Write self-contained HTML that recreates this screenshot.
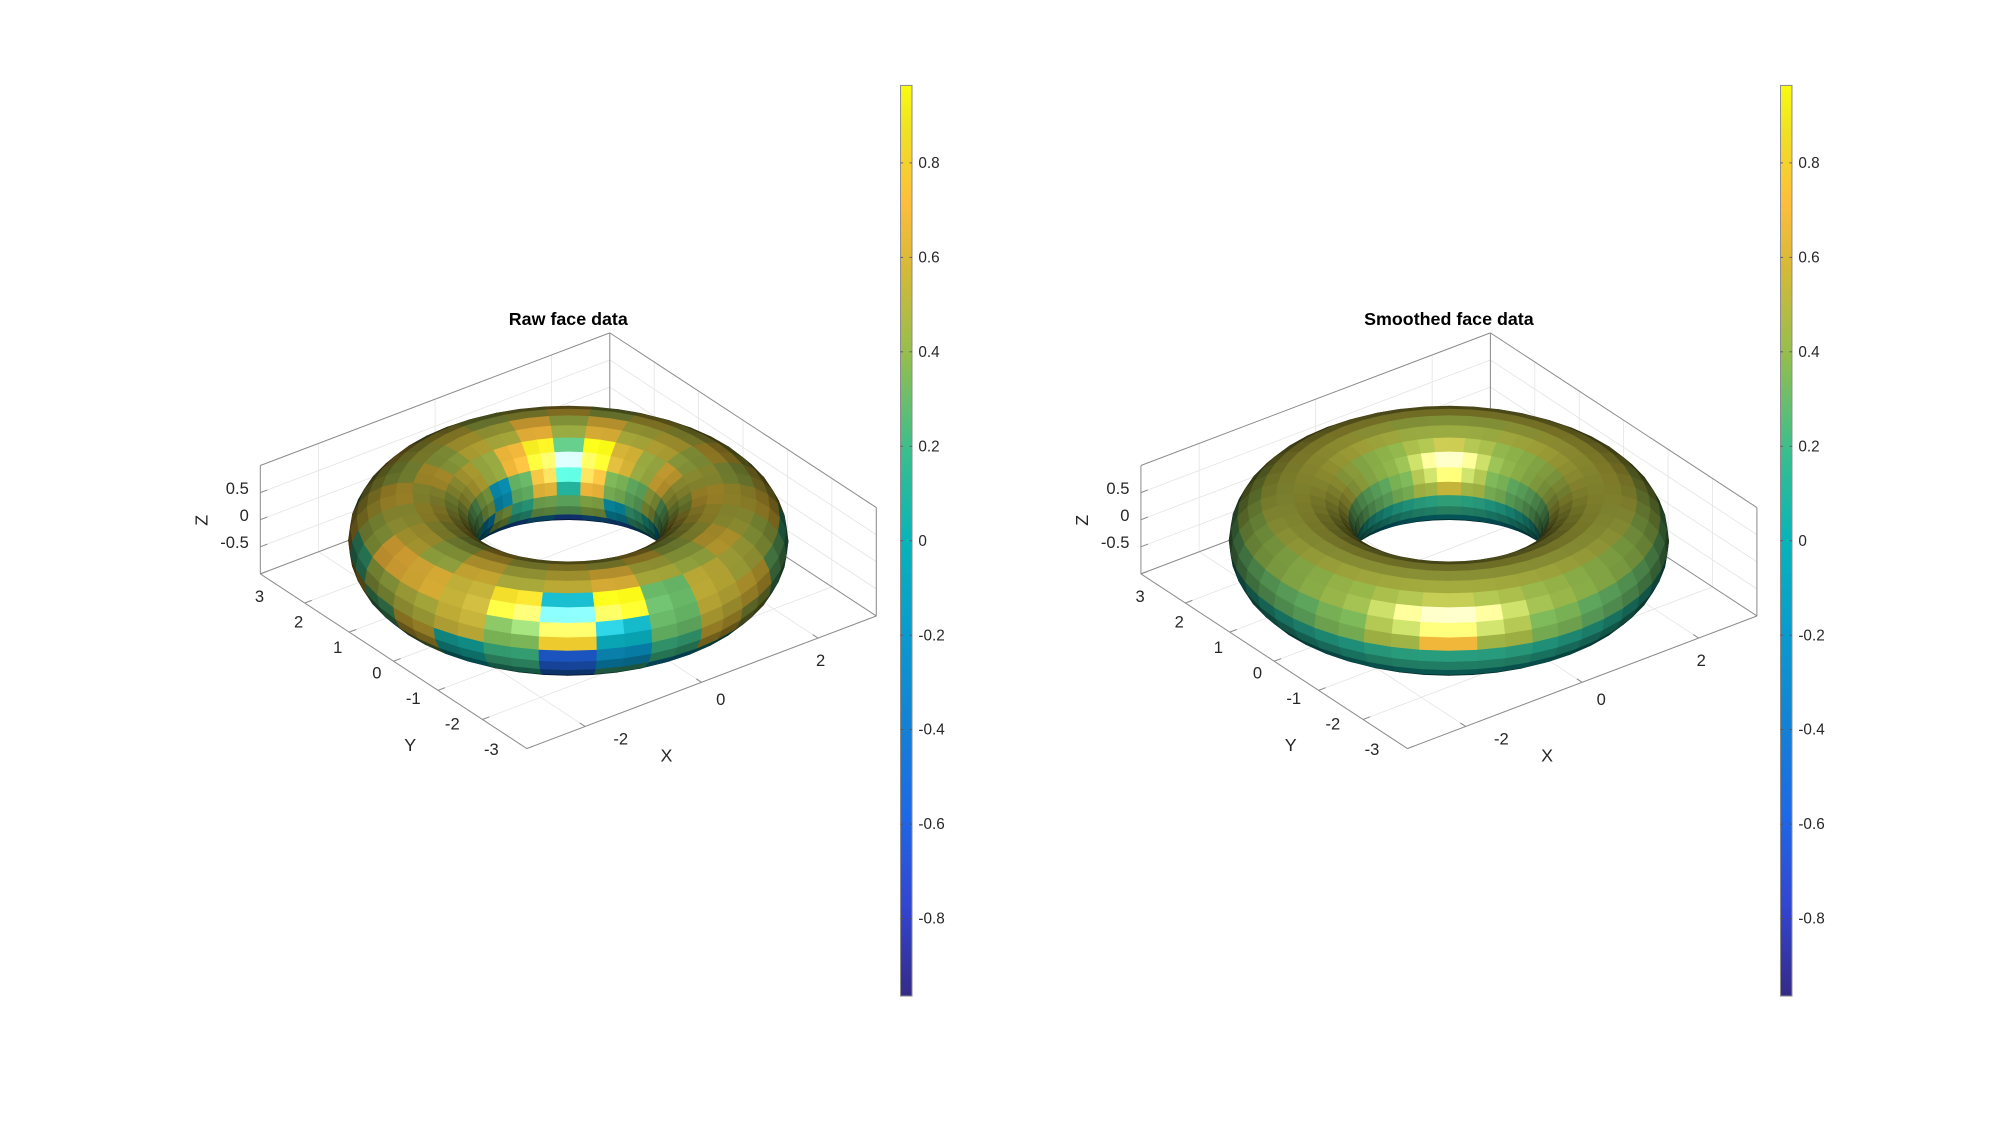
<!DOCTYPE html>
<html><head><meta charset="utf-8"><style>
html,body{margin:0;padding:0;background:#fff;}
svg{display:block;font-family:"Liberation Sans",sans-serif;}
</style></head><body>
<svg id="fig" width="2000" height="1121" viewBox="0 0 1568 879" xmlns="http://www.w3.org/2000/svg">
<defs>
<linearGradient id="parula" x1="0" y1="1" x2="0" y2="0">
<stop offset="0" stop-color="rgb(53,42,135)"/>
<stop offset="0.1" stop-color="rgb(50,70,210)"/>
<stop offset="0.2" stop-color="rgb(30,105,230)"/>
<stop offset="0.3" stop-color="rgb(20,130,212)"/>
<stop offset="0.4" stop-color="rgb(10,155,205)"/>
<stop offset="0.5" stop-color="rgb(8,180,185)"/>
<stop offset="0.6" stop-color="rgb(60,190,140)"/>
<stop offset="0.7" stop-color="rgb(145,190,80)"/>
<stop offset="0.8" stop-color="rgb(215,185,55)"/>
<stop offset="0.87" stop-color="rgb(252,190,60)"/>
<stop offset="0.95" stop-color="rgb(240,225,35)"/>
<stop offset="1" stop-color="rgb(249,251,14)"/>
</linearGradient>
</defs>
</svg>
<script>
// colorbar ticks
const cbTicks = [-0.8,-0.6,-0.4,-0.2,0,0.2,0.4,0.6,0.8];
const cbLabels = ["-0.8","-0.6","-0.4","-0.2","0","0.2","0.4","0.6","0.8"];
const cLim = [-0.964, 0.964];
const xTicks = [-2,0,2];
const yTicks = [3,2,1,0,-1,-2,-3];
const zTicks = [0.5,0,-0.5];
const zTickLabels = ["0.5","0","-0.5"];
// face values: rows = minor angle (v) bins from outer equator going up/over, cols = major angle (u) bins
const smoothVals = [
[.4,.4,.4,.4,.4,.4,.35,.3,.3,.3,.3,.3,.3,.35,.45,.7,.45,.35,.3,.3,.3,.3,.3,.35],
[.5,.5,.5,.5,.5,.5,.5,.5,.45,.42,.4,.4,.4,.42,.45,.48,.45,.42,.4,.4,.4,.42,.45,.5],
[.52,.52,.52,.52,.52,.52,.52,.52,.5,.48,.48,.48,.48,.48,.48,.48,.48,.48,.48,.48,.48,.5,.52,.52],
[.5,.48,.45,.45,.45,.48,.5,.5,.5,.5,.5,.5,.5,.5,.5,.5,.5,.5,.5,.5,.5,.5,.5,.5],
[.4,.4,.45,.5,.45,.4,.4,.45,.5,.5,.5,.5,.5,.5,.5,.5,.5,.5,.5,.5,.5,.5,.45,.42],
[.3,.35,.45,.55,.45,.35,.3,.3,.3,.3,.3,.3,.3,.3,.3,.3,.3,.3,.3,.3,.3,.3,.3,.3],
[.1,.12,.15,.18,.15,.12,.1,.1,.1,.1,.1,.1,.1,.1,.1,.1,.1,.1,.1,.1,.1,.1,.1,.1],
[-.05,-.05,-.02,0,-.02,-.05,-.05,-.05,-.05,-.05,-.05,-.05,-.05,-.05,-.05,-.05,-.05,-.05,-.05,-.05,-.05,-.05,-.05,-.05],
[-.1,-.1,-.1,-.1,-.1,-.1,-.1,-.1,-.1,-.1,-.1,-.1,-.1,-.1,-.1,-.1,-.1,-.1,-.1,-.1,-.1,-.1,-.1,-.1],
[-.05,-.05,-.05,-.05,-.05,-.05,-.05,-.05,-.05,-.05,-.05,-.05,-.05,-.05,-.05,-.05,-.05,-.05,-.05,-.05,-.05,-.05,-.05,-.05],
[.05,.05,.05,.05,.05,.05,.05,.05,.05,.05,.05,.05,.05,.05,.05,.05,.05,.05,.05,.05,.05,.05,.05,.05],
[.25,.25,.25,.25,.25,.25,.25,.22,.2,.15,.12,.12,.12,.12,.15,.15,.15,.12,.12,.12,.12,.15,.2,.25]
];
const rawVals = [
[.5,.45,.55,.4,.6,.5,.35,.55,.3,.6,.2,.45,.5,.55,.35,.8,-.05,.3,.55,.6,.3,.2,.55,.45],
[.55,.5,.6,.45,.5,.55,.45,.6,.5,.55,.45,.7,.65,.55,.85,-.05,.95,.3,.55,.5,.45,.6,.55,.5],
[.5,.55,.45,.6,.5,.45,.55,.5,.45,.6,.5,.55,.45,.6,.5,.55,.65,.5,.45,.6,.5,.55,.45,.6],
[.55,.5,.65,.45,.7,.5,.55,.45,.6,.5,.55,.5,.45,.6,.5,.55,.5,.6,.45,.5,.55,.6,.5,.45],
[.45,.6,.95,.25,.9,.7,.45,.55,.5,.45,.5,.55,.5,.6,.5,.45,.55,.5,.6,.5,.55,.45,.5,.65],
[.3,.35,.7,.1,.65,.3,-.15,.4,.3,.35,.4,.3,.35,.3,.4,.35,.3,.4,.35,.3,.4,.35,.3,.45],
[.2,-.1,.4,.3,.35,.15,.4,-.2,.2,.1,.2,.15,.2,.1,.2,.15,.2,.1,.15,.2,.1,.15,-.15,.1],
[-.3,-.5,-.4,-.6,-.3,-.55,-.35,-.4,-.2,-.3,-.2,-.3,-.2,-.3,-.2,-.3,-.2,-.3,-.2,-.3,-.2,-.3,-.6,-.45],
[-.7,-.6,-.7,-.65,-.7,-.6,-.7,-.65,-.7,-.6,-.7,-.65,-.7,-.6,-.7,-.65,-.7,-.6,-.7,-.65,-.7,-.6,-.7,-.65],
[-.5,-.6,-.5,-.55,-.5,-.6,-.5,-.55,-.5,-.6,-.5,-.55,-.5,-.4,-.45,-.7,-.6,-.5,-.55,-.5,-.6,-.5,-.55,-.5],
[.05,-.2,.1,-.1,.05,-.2,.1,-.1,.05,.3,.1,-.2,.35,0,.15,-.55,.2,-.15,.05,.3,0,.2,.05,-.1],
[.3,.25,.35,.3,.25,.35,.3,.25,.35,.35,.6,.25,.6,.05,.2,-.6,-.2,.2,.6,.45,.25,.5,.3,.35]
];

const svg = document.getElementById('fig');
const NS = 'http://www.w3.org/2000/svg';
function mk(tag, attrs, parent){const e=document.createElementNS(NS,tag);for(const k in attrs)e.setAttribute(k,attrs[k]);(parent||svg).appendChild(e);return e;}

const stops=[[0,53,42,135],[.1,50,70,210],[.2,30,105,230],[.3,20,130,212],[.4,10,155,205],[.5,8,180,185],[.6,60,190,140],[.7,145,190,80],[.8,215,185,55],[.87,252,190,60],[.95,240,225,35],[1,249,251,14]];
function cmap(v){let t=(v-cLim[0])/(cLim[1]-cLim[0]);t=Math.max(0,Math.min(1,t));
 for(let i=1;i<stops.length;i++){if(t<=stops[i][0]){const a=stops[i-1],b=stops[i],f=(t-a[0])/(b[0]-a[0]);return [a[1]+(b[1]-a[1])*f,a[2]+(b[2]-a[2])*f,a[3]+(b[3]-a[3])*f];}}
 return [249,251,14];}

const EX=[45.67,-17.33], EY=[-34.83,-22.83], EZ=[0,-42.5];
let V=[-1480,-1941,1646]; {const n=Math.hypot(...V);V=V.map(a=>a/n);}
const dot=(a,b)=>a[0]*b[0]+a[1]*b[1]+a[2]*b[2];

function drawPlot(cx, cy, vals, title, name){
 const g=mk('g',{});
 
 
 const P=(x,y,z)=>[cx+EX[0]*x+EY[0]*y+EZ[0]*z, cy+EX[1]*x+EY[1]*y+EZ[1]*z];
 const line=(a,b,st,w,nm)=>{const p=P(...a),q=P(...b);const l=mk('line',{x1:p[0],y1:p[1],x2:q[0],y2:q[1],stroke:st,'stroke-width':w},g);return l;};
 const gc='#e3e3e3';
 for(const t of xTicks){line([t,3,-1],[t,3,1],gc,0.6,'grid-line');line([t,-3,-1],[t,3,-1],gc,0.6,'grid-line');}
 for(const t of yTicks){line([3,t,-1],[3,t,1],gc,0.6,'grid-line');line([-3,t,-1],[3,t,-1],gc,0.6,'grid-line');}
 for(const t of zTicks){line([-3,3,t],[3,3,t],gc,0.6,'grid-line');line([3,3,t],[3,-3,t],gc,0.6,'grid-line');}
 const bc='#8c8c8c';
 line([-3,3,1],[3,3,1],bc,0.8,'axes-box-edge');line([3,3,1],[3,-3,1],bc,0.8,'axes-box-edge');
 line([3,3,-1],[3,3,1],bc,0.8,'axes-box-edge');line([-3,3,-1],[-3,3,1],bc,0.8,'axes-box-edge');
 line([3,-3,-1],[3,-3,1],bc,0.8,'axes-box-edge');
 line([-3,3,-1],[3,3,-1],bc,0.8,'axes-box-edge');line([3,3,-1],[3,-3,-1],bc,0.8,'axes-box-edge');
 line([-3,3,-1],[-3,-3,-1],bc,0.8,'y-axis-line');line([-3,-3,-1],[3,-3,-1],bc,0.8,'x-axis-line');
 for(const t of xTicks) line([t,-3,-1],[t,-2.88,-1],bc,0.8,'x-tick');
 for(const t of yTicks) line([-3,t,-1],[-2.88,t,-1],bc,0.8,'y-tick');
 for(const t of zTicks) line([-3,3,t],[-2.88,3,t],bc,0.8,'z-tick');
 // torus faces
 const NU=48,NV=24,R=2.13,r=0.87,faces=[];
 const pt=(u,v)=>[(R+r*Math.cos(v))*Math.cos(u),(R+r*Math.cos(v))*Math.sin(u),r*Math.sin(v)];
 for(let j=0;j<NU;j++)for(let i=0;i<NV;i++){
  const u0=j*2*Math.PI/NU,u1=(j+1)*2*Math.PI/NU,v0=i*2*Math.PI/NV,v1=(i+1)*2*Math.PI/NV;
  const um=(u0+u1)/2,vm=(v0+v1)/2;
  const n=[Math.cos(vm)*Math.cos(um),Math.cos(vm)*Math.sin(um),Math.sin(vm)];
  const nv=dot(n,V); if(nv<-0.05) continue;
  const c=pt(um,vm);
  const col=cmap(vals[Math.floor(i/2)][Math.floor(j/2)]);
  const dif=Math.max(0,nv), sp=Math.pow(dif,40)*0.6;
  const f=0.2+0.85*dif;
  const rgb=col.map(cc=>Math.round(Math.min(255,cc*f+255*sp)));
  const pts=[pt(u0,v0),pt(u1,v0),pt(u1,v1),pt(u0,v1)].map(p=>P(...p).map(a=>a.toFixed(2)).join(',')).join(' ');
  faces.push({d:dot(c,V),pts,fill:`rgb(${rgb})`});
 }
 faces.sort((a,b)=>a.d-b.d);
 const tg=mk('g',{},g);
 
 
 for(const fc of faces){const p=mk('polygon',{points:fc.pts,fill:fc.fill,stroke:fc.fill,'stroke-width':0.6,'stroke-linejoin':'round'},tg);
  
  }
 const txt=(x,y,s,o,nm)=>{const t=mk('text',Object.assign({x,y,'font-size':13,fill:'#262626'},o||{}),g);t.textContent=s;return t;};
 yTicks.forEach((t,k)=>{const p=P(-3,t,-1);const f=k/(yTicks.length-1);txt(p[0]-3-25*f+6,p[1]+22-17*f,String(t),{'text-anchor':'end'},'y-tick-label');});
 xTicks.forEach((t,k)=>{const p=P(t,-3,-1);const f=k/(xTicks.length-1);txt(p[0]+28-26*f,p[1]+14+8*f,String(t),{'text-anchor':'middle'},'x-tick-label');});
 zTicks.forEach((t,k)=>{const p=P(-3,3,t);txt(p[0]-9,p[1]+1,zTickLabels[k],{'text-anchor':'end'},'z-tick-label');});
 txt(cx-124,589,'Y',{'text-anchor':'middle','font-size':14},'y-axis-title');
 txt(cx+77,597,'X',{'text-anchor':'middle','font-size':14},'x-axis-title');
 txt(0,0,'Z',{'text-anchor':'middle','font-size':14,transform:`translate(${cx-283},${cy-16}) rotate(-90)`},'z-axis-title');
 txt(cx,255,title,{'text-anchor':'middle','font-size':14,'font-weight':'bold',fill:'#000'},'plot-title');
}
function drawColorbar(x0,name){
 const g=mk('g',{});
 
 
 const top=67,bot=781,h=bot-top;
 const yOf=v=>bot-(v-cLim[0])/(cLim[1]-cLim[0])*h;
 mk('rect',{x:x0,y:top,width:9,height:h,fill:'url(#parula)',stroke:'#8c8c8c','stroke-width':0.8},g);
 cbTicks.forEach((t,k)=>{const y=yOf(t);
  mk('line',{x1:x0,y1:y,x2:x0+2,y2:y,stroke:'#555','stroke-width':0.7},g);
  mk('line',{x1:x0+7,y1:y,x2:x0+9,y2:y,stroke:'#555','stroke-width':0.7},g);
  const tx=mk('text',{x:x0+14,y:y+4,'font-size':12,fill:'#262626'},g);tx.textContent=cbLabels[k];
  
  });
}
drawPlot(445.5,424,rawVals,'Raw face data','raw-face-plot');
drawPlot(1136,424,smoothVals,'Smoothed face data','smoothed-face-plot');
drawColorbar(706,'raw-colorbar');
drawColorbar(1396,'smoothed-colorbar');
</script>
</body></html>
